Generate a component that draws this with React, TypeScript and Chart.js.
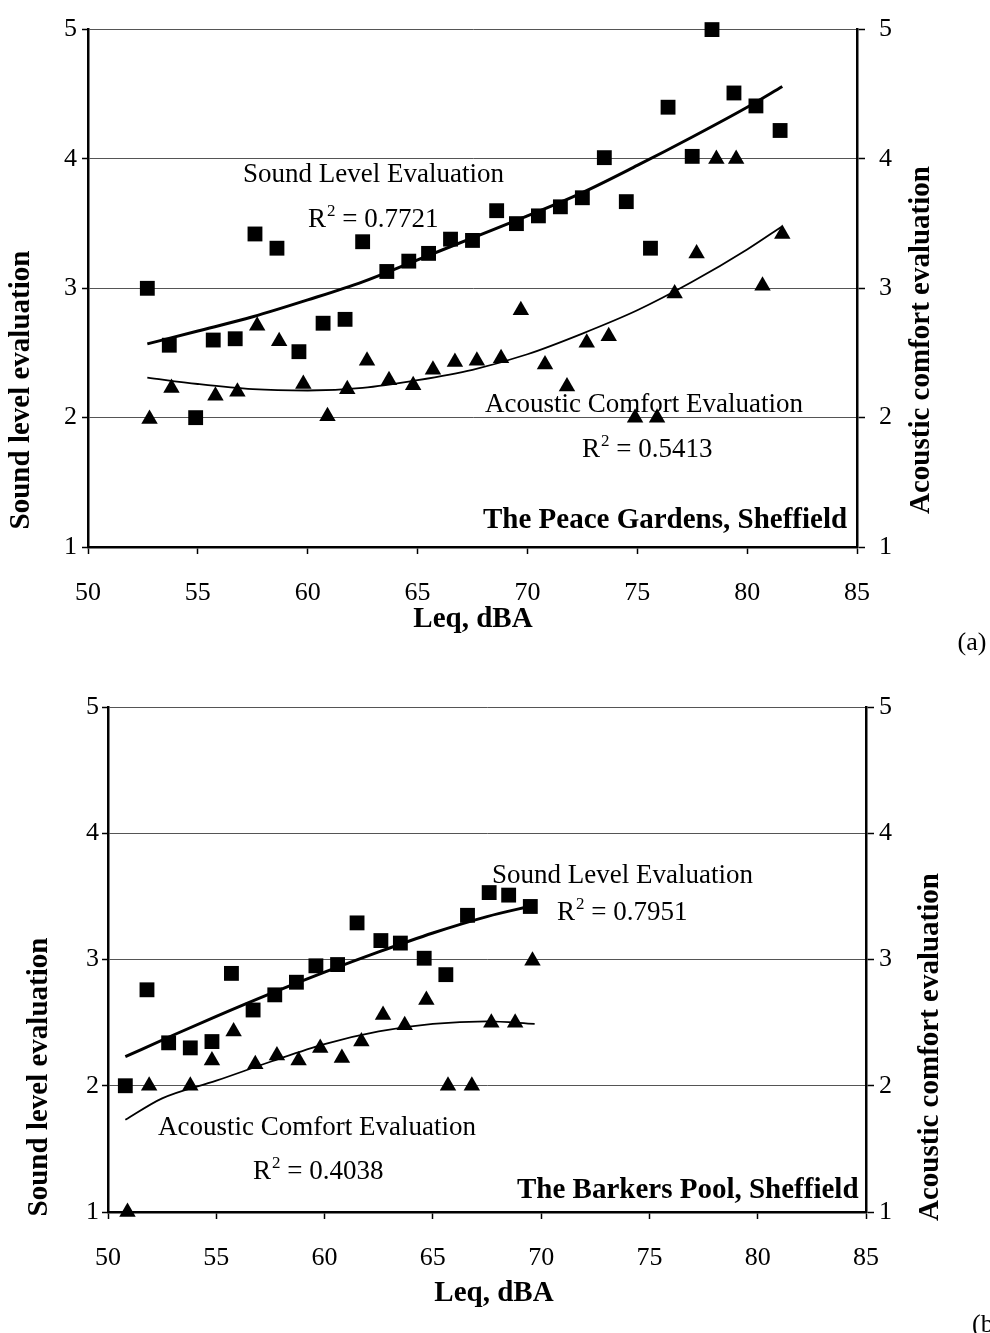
import React, { useEffect, useRef } from "react";
import { Chart, registerables } from "chart.js";

Chart.register(...registerables);

const SERIF = "'Liberation Serif', 'Times New Roman', serif";

// ---------- Panel (a): The Peace Gardens ----------
const aSoundLeq = [52.7, 53.7, 54.9, 55.7, 56.7, 57.6, 58.6, 59.6, 60.7, 61.7, 62.5, 63.6, 64.6, 65.5, 66.5, 67.5, 68.6, 69.5, 70.5, 71.5, 72.5, 73.5, 74.5, 75.6, 76.4, 77.5, 78.4, 79.4, 80.4, 81.5];
const aSoundVal = [3.0, 2.56, 2.0, 2.6, 2.61, 3.42, 3.31, 2.51, 2.73, 2.76, 3.36, 3.13, 3.21, 3.27, 3.38, 3.37, 3.6, 3.5, 3.56, 3.63, 3.7, 4.01, 3.67, 3.31, 4.4, 4.02, 5.0, 4.51, 4.41, 4.22];
const aComfortLeq = [52.8, 53.8, 55.8, 56.8, 57.7, 58.7, 59.8, 60.9, 61.8, 62.7, 63.7, 64.8, 65.7, 66.7, 67.7, 68.8, 69.7, 70.8, 71.8, 72.7, 73.7, 74.9, 75.9, 76.7, 77.7, 78.6, 79.5, 80.7, 81.6];
const aComfortVal = [1.99, 2.23, 2.17, 2.2, 2.71, 2.59, 2.26, 2.01, 2.22, 2.44, 2.29, 2.25, 2.37, 2.43, 2.44, 2.46, 2.83, 2.41, 2.24, 2.58, 2.63, 2.0, 2.0, 2.96, 3.27, 4.0, 4.0, 3.02, 3.42];
const aTrendLeq = [52.7, 55, 57.5, 60, 62.5, 65, 67.5, 70, 72.5, 75, 77.5, 80, 81.6];
const aSoundTrend = [2.57, 2.67, 2.78, 2.91, 3.05, 3.22, 3.39, 3.56, 3.74, 3.95, 4.17, 4.4, 4.56];
const aComfortTrend = [2.31, 2.26, 2.22, 2.21, 2.23, 2.29, 2.37, 2.49, 2.65, 2.83, 3.05, 3.3, 3.48];

// ---------- Panel (b): The Barkers Pool ----------
const bSoundLeq = [50.8, 51.8, 52.8, 53.8, 54.8, 55.7, 56.7, 57.7, 58.7, 59.6, 60.6, 61.5, 62.6, 63.5, 64.6, 65.6, 66.6, 67.6, 68.5, 69.5];
const bSoundVal = [2.0, 2.76, 2.34, 2.3, 2.35, 2.89, 2.6, 2.72, 2.82, 2.95, 2.96, 3.29, 3.15, 3.13, 3.01, 2.88, 3.35, 3.53, 3.51, 3.42];
const bComfortLeq = [50.9, 51.9, 53.8, 54.8, 55.8, 56.8, 57.8, 58.8, 59.8, 60.8, 61.7, 62.7, 63.7, 64.7, 65.7, 66.8, 67.7, 68.8, 69.6];
const bComfortVal = [1.0, 2.0, 2.0, 2.2, 2.43, 2.17, 2.24, 2.2, 2.3, 2.22, 2.35, 2.56, 2.48, 2.68, 2.0, 2.0, 2.5, 2.5, 2.99];
const bSoundTrendLeq = [50.8, 53, 55, 57.5, 60, 62.5, 65, 67.5, 69.7];
const bSoundTrend = [2.23, 2.4, 2.55, 2.73, 2.9, 3.06, 3.21, 3.34, 3.43];
const bComfortTrendLeq = [50.8, 52.5, 55, 57.5, 60, 62.5, 65, 67.5, 69.7];
const bComfortTrend = [1.73, 1.9, 2.04, 2.19, 2.33, 2.43, 2.49, 2.51, 2.49];

// ---------- shared axis text ----------
const xTitle = "Leq, dBA";
const yLeftTitle = "Sound level evaluation";
const yRightTitle = "Acoustic comfort evaluation";
const soundLabel = "Sound Level Evaluation";
const comfortLabel = "Acoustic Comfort Evaluation";
const xMin = 50, xMax = 85, xStep = 5;
const yMin = 1, yMax = 5, yStep = 1;

type Txt = { t: string; x: number; y: number; size: number; bold?: boolean; align?: CanvasTextAlign; base?: CanvasTextBaseline; rot?: boolean; r2?: boolean };

type PanelCfg = {
  h: number;
  leftW: number; rightW: number; topPad: number; bottomH: number;
  leftTickPad: number; rightTickPad: number;
  soundX: number[]; soundY: number[];
  comfortX: number[]; comfortY: number[];
  sTrendX: number[]; sTrendY: number[];
  cTrendX: number[]; cTrendY: number[];
  texts: Txt[];
};

const pts = (xs: number[], ys: number[]) => xs.map((x, i) => ({ x, y: ys[i] }));

function drawTexts(ctx: CanvasRenderingContext2D, texts: Txt[]) {
  ctx.save();
  ctx.fillStyle = "#000";
  for (const s of texts) {
    ctx.save();
    ctx.font = `${s.bold ? "bold " : ""}${s.size}px ${SERIF}`;
    ctx.textAlign = s.align || "left";
    ctx.textBaseline = s.base || "alphabetic";
    ctx.translate(s.x, s.y);
    if (s.rot) ctx.rotate(-Math.PI / 2);
    if (s.r2) {
      ctx.textAlign = "left";
      ctx.fillText("R", 0, 0);
      let w = ctx.measureText("R").width + 1;
      ctx.font = `${Math.round(s.size * 0.62)}px ${SERIF}`;
      ctx.fillText("2", w, -s.size * 0.42);
      w += ctx.measureText("2").width;
      ctx.font = `${s.size}px ${SERIF}`;
      ctx.fillText(" = " + s.t, w, 0);
    } else {
      ctx.fillText(s.t, 0, 0);
    }
    ctx.restore();
  }
  ctx.restore();
}

function Panel({ cfg }: { cfg: PanelCfg }) {
  const ref = useRef<HTMLCanvasElement>(null);
  useEffect(() => {
    const tickFont = { family: SERIF, size: 26 };
    const chart = new Chart(ref.current!, {
      type: "scatter",
      data: {
        datasets: [
          {
            data: pts(cfg.sTrendX, cfg.sTrendY),
            showLine: true,
            borderColor: "#000",
            borderWidth: 3,
            pointRadius: 0,
            tension: 0.4,
            cubicInterpolationMode: "monotone",
            yAxisID: "y",
            clip: false,
          } as any,
          {
            data: pts(cfg.cTrendX, cfg.cTrendY),
            showLine: true,
            borderColor: "#000",
            borderWidth: 1.8,
            pointRadius: 0,
            tension: 0.4,
            cubicInterpolationMode: "monotone",
            yAxisID: "y",
            clip: false,
          } as any,
          {
            data: pts(cfg.soundX, cfg.soundY),
            pointStyle: "rect",
            pointRadius: 10.5,
            backgroundColor: "#000",
            borderColor: "#000",
            borderWidth: 0,
            yAxisID: "y",
            clip: false,
          } as any,
          {
            data: pts(cfg.comfortX, cfg.comfortY),
            pointStyle: "triangle",
            pointRadius: 9.5,
            backgroundColor: "#000",
            borderColor: "#000",
            borderWidth: 0,
            yAxisID: "y",
            clip: false,
          } as any,
        ],
      },
      options: {
        responsive: false,
        animation: false,
        devicePixelRatio: 1,
        layout: { padding: { top: cfg.topPad, left: 0, right: 0, bottom: 0 } },
        plugins: { legend: { display: false }, tooltip: { enabled: false } },
        events: [],
        scales: {
          x: {
            type: "linear",
            position: "bottom",
            min: xMin,
            max: xMax,
            ticks: { stepSize: xStep, font: tickFont, color: "#000", padding: 24 },
            grid: { drawOnChartArea: false, drawTicks: true, tickLength: 7, tickColor: "#000", tickWidth: 1.5 },
            border: { color: "#000", width: 2.5 },
            afterFit: (s: any) => { s.height = cfg.bottomH; },
          },
          y: {
            type: "linear",
            position: "left",
            min: yMin,
            max: yMax,
            ticks: { stepSize: yStep, font: tickFont, color: "#000", padding: cfg.leftTickPad },
            grid: { color: "#555", lineWidth: 1, drawTicks: true, tickLength: 6, tickColor: "#000", tickWidth: 1.5 },
            border: { color: "#000", width: 2.5 },
            afterFit: (s: any) => { s.width = cfg.leftW; },
          },
          y2: {
            type: "linear",
            position: "right",
            min: yMin,
            max: yMax,
            ticks: { stepSize: yStep, font: tickFont, color: "#000", padding: cfg.rightTickPad },
            grid: { drawOnChartArea: false, drawTicks: true, tickLength: 8, tickColor: "#000", tickWidth: 1.5 },
            border: { color: "#000", width: 2.5 },
            afterFit: (s: any) => { s.width = cfg.rightW; },
          },
        },
      } as any,
      plugins: [
        {
          id: "texts",
          afterDraw: (c: any) => drawTexts(c.ctx, cfg.texts),
        },
      ],
    });
    return () => chart.destroy();
  }, [cfg]);
  return <canvas ref={ref} width={990} height={cfg.h} style={{ display: "block", width: 990, height: cfg.h }} />;
}

const panelA: PanelCfg = {
  h: 660,
  leftW: 88, rightW: 133, topPad: 24, bottomH: 113,
  leftTickPad: 5, rightTickPad: 14,
  soundX: aSoundLeq, soundY: aSoundVal,
  comfortX: aComfortLeq, comfortY: aComfortVal,
  sTrendX: aTrendLeq, sTrendY: aSoundTrend,
  cTrendX: aTrendLeq, cTrendY: aComfortTrend,
  texts: [
    { t: soundLabel, x: 243, y: 182, size: 27 },
    { t: "0.7721", x: 308, y: 227, size: 27, r2: true },
    { t: comfortLabel, x: 485, y: 412, size: 27 },
    { t: "0.5413", x: 582, y: 457, size: 27, r2: true },
    { t: "The Peace Gardens, Sheffield", x: 483, y: 528, size: 29, bold: true },
    { t: xTitle, x: 473, y: 620, size: 29, bold: true, align: "center", base: "middle" },
    { t: "(a)", x: 972, y: 643, size: 26, align: "center", base: "middle" },
    { t: yLeftTitle, x: 22, y: 390, size: 29, bold: true, align: "center", base: "middle", rot: true },
    { t: yRightTitle, x: 922, y: 340, size: 29, bold: true, align: "center", base: "middle", rot: true },
  ],
};

const panelB: PanelCfg = {
  h: 673,
  leftW: 108, rightW: 124, topPad: 47, bottomH: 121,
  leftTickPad: 3, rightTickPad: 5,
  soundX: bSoundLeq, soundY: bSoundVal,
  comfortX: bComfortLeq, comfortY: bComfortVal,
  sTrendX: bSoundTrendLeq, sTrendY: bSoundTrend,
  cTrendX: bComfortTrendLeq, cTrendY: bComfortTrend,
  texts: [
    { t: soundLabel, x: 492, y: 223, size: 27 },
    { t: "0.7951", x: 557, y: 260, size: 27, r2: true },
    { t: comfortLabel, x: 158, y: 475, size: 27 },
    { t: "0.4038", x: 253, y: 519, size: 27, r2: true },
    { t: "The Barkers Pool, Sheffield", x: 517, y: 538, size: 29, bold: true },
    { t: xTitle, x: 494, y: 634, size: 29, bold: true, align: "center", base: "middle" },
    { t: "(b)", x: 972, y: 665, size: 26, align: "left", base: "middle" },
    { t: yLeftTitle, x: 40, y: 417, size: 29, bold: true, align: "center", base: "middle", rot: true },
    { t: yRightTitle, x: 931, y: 387, size: 29, bold: true, align: "center", base: "middle", rot: true },
  ],
};

export default function App() {
  return (
    <div style={{ position: "absolute", left: 0, top: 0, width: 990, height: 1333, background: "#fff", overflow: "hidden" }}>
      <Panel cfg={panelA} />
      <Panel cfg={panelB} />
    </div>
  );
}
